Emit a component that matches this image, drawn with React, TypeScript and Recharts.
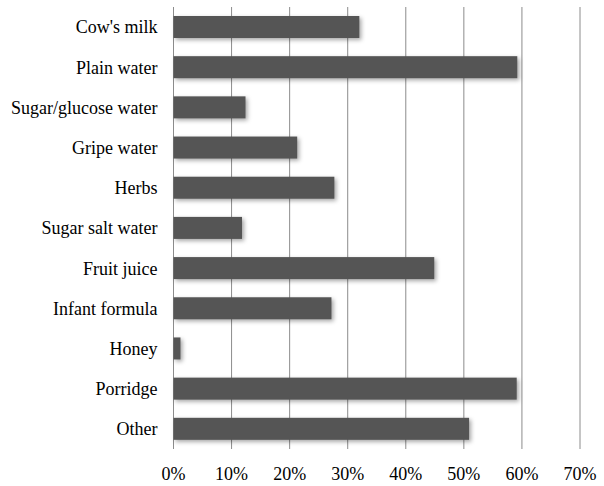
import { BarChart, Bar, XAxis, YAxis, CartesianGrid } from "recharts";

const categories = [
  "Cow's milk",
  "Plain water",
  "Sugar/glucose water",
  "Gripe water",
  "Herbs",
  "Sugar salt water",
  "Fruit juice",
  "Infant formula",
  "Honey",
  "Porridge",
  "Other",
];
const percents = [32, 59.2, 12.4, 21.3, 27.7, 11.8, 44.9, 27.2, 1.2, 59.1, 50.9];
const xTicks = [0, 10, 20, 30, 40, 50, 60, 70];

const data = categories.map((name, i) => ({ name, value: percents[i] }));

const tickFont = { fontSize: 18, fill: "#000", fontFamily: "Liberation Serif" };

// dark bars with a soft drop shadow, like the original
function ShadowBar(props: any) {
  const { x, y, width, height } = props;
  return (
    <rect
      x={x}
      y={y}
      width={width}
      height={height}
      fill="#555555"
      style={{ filter: "drop-shadow(2px 2px 2px rgba(0,0,0,0.35))" }}
    />
  );
}

export default function App() {
  return (
    <div style={{ position: "absolute", left: 0, top: 0, background: "#fff" }}>
      <BarChart
        width={604}
        height={486}
        data={data}
        layout="vertical"
        margin={{ top: 7, right: 24, bottom: 0, left: 0 }}
        barSize={22}
        style={{ fontFamily: "Liberation Serif" }}
      >
        <CartesianGrid horizontal={false} stroke="#8c8c8c" strokeWidth={1} />
        <XAxis
          type="number"
          domain={[0, 70]}
          ticks={xTicks}
          tickFormatter={(v) => `${v}%`}
          axisLine={false}
          tickLine={false}
          tickSize={0}
          tickMargin={18}
          height={37}
          tick={tickFont}
          interval={0}
        />
        <YAxis
          type="category"
          dataKey="name"
          axisLine={false}
          tickLine={false}
          tickSize={0}
          tickMargin={16}
          width={173.5}
          tick={tickFont}
          interval={0}
        />
        <Bar dataKey="value" shape={ShadowBar} isAnimationActive={false} />
      </BarChart>
    </div>
  );
}
